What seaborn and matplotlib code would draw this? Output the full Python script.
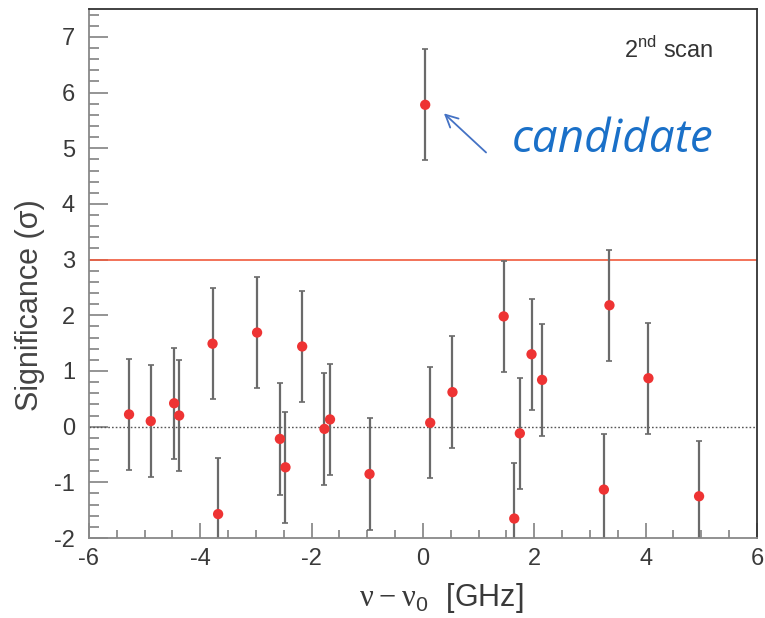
import numpy as np
import pandas as pd
import matplotlib
matplotlib.use("Agg")
import matplotlib.pyplot as plt
import seaborn as sns
from matplotlib.ticker import MultipleLocator

# data (frequency offset in GHz, significance in sigma)
freq = [-5.28, -4.89, -4.47, -4.38, -3.78, -3.68, -2.98, -2.57, -2.47, -2.17,
        -1.77, -1.67, -0.96, 0.04, 0.13, 0.53, 1.45, 1.64, 1.74, 1.95,
        2.14, 3.25, 3.35, 4.05, 4.96]
signif = [0.22, 0.10, 0.42, 0.20, 1.49, -1.57, 1.69, -0.22, -0.73, 1.44,
          -0.04, 0.13, -0.85, 5.78, 0.07, 0.62, 1.98, -1.65, -0.12, 1.30,
          0.84, -1.13, 2.18, 0.87, -1.25]
err = [1.0] * len(freq)

df = pd.DataFrame({"freq": freq, "signif": signif, "err": err})

sns.set_style("white")
plt.rcParams["font.family"] = ["Liberation Sans", "DejaVu Sans"]
plt.rcParams["axes.unicode_minus"] = False
plt.rcParams["mathtext.fontset"] = "custom"
plt.rcParams["mathtext.rm"] = "Liberation Serif"
plt.rcParams["mathtext.sf"] = "Liberation Sans"

fig = plt.figure(figsize=(7.65, 6.18), dpi=100)
ax = fig.add_axes([0.1163, 0.1294, 0.8732, 0.856])

# threshold and zero lines
ax.axhline(3, color="#f05a3c", lw=1.2, zorder=1)
ax.axhline(0, color="#555555", lw=1.0, ls=(0, (1.2, 1.5)), zorder=1)

ax.errorbar(df["freq"], df["signif"], yerr=df["err"], fmt="none",
            ecolor="#6a6a6a", elinewidth=1.6, capsize=2.2, capthick=1.2, zorder=2)
sns.scatterplot(data=df, x="freq", y="signif", ax=ax, color="#ee3333",
                s=55, edgecolor="none", zorder=3, legend=False)

ax.set_xlim(-6, 6)
ax.set_ylim(-2, 7.5)
ax.xaxis.set_major_locator(MultipleLocator(2))
ax.xaxis.set_minor_locator(MultipleLocator(0.5))
ax.yaxis.set_major_locator(MultipleLocator(1))
ax.yaxis.set_minor_locator(MultipleLocator(0.2))
ax.tick_params(axis="both", which="both", direction="in", color="#777777",
               width=1.1, labelcolor="#3a3a3a", labelsize=17,
               bottom=True, left=True, top=False, right=False)
ax.tick_params(axis="x", which="major", length=11, pad=7)
ax.tick_params(axis="x", which="minor", length=5.5)
ax.tick_params(axis="y", which="major", length=14, pad=10)
ax.tick_params(axis="y", which="minor", length=7)

for side in ["left", "bottom"]:
    ax.spines[side].set_color("#888888")
    ax.spines[side].set_linewidth(1.3)
for side in ["top", "right"]:
    ax.spines[side].set_color("#333333")
    ax.spines[side].set_linewidth(1.3)

ax.set_xlabel(r"$\mathrm{\nu - \nu}_{\mathsf{0}}$  [GHz]", fontsize=22,
              color="#3a3a3a")
ax.xaxis.set_label_coords(0.527, -0.082)
ax.set_ylabel("Significance (σ)", fontsize=22, color="#444444")
ax.yaxis.set_label_coords(-0.066, 0.44)

ax.text(5.21, 6.77, r"2$^{\mathregular{nd}}$ scan", fontsize=17, color="#333333",
        ha="right", va="center")
ax.annotate("", xy=(0.34, 5.66), xytext=(1.17, 4.89),
            arrowprops=dict(arrowstyle="->", color="#4472c4", lw=1.3,
                            mutation_scale=22))
ax.text(1.6, 5.14, "candidate", fontsize=33, color="#1a70c8", style="italic",
        family=["Open Sans", "DejaVu Sans"], ha="left", va="center")

fig.savefig("out.png", dpi=100)
